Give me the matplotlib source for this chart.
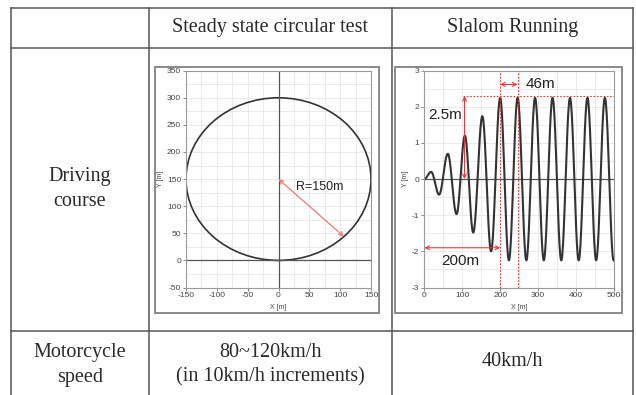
import numpy as np
import matplotlib.pyplot as plt
from matplotlib.lines import Line2D
from matplotlib.patches import Rectangle, Circle

plt.rcParams["axes.unicode_minus"] = False

# table text
header = ["Steady state circular test", "Slalom Running"]
row_labels = ["Driving\ncourse", "Motorcycle\nspeed"]
speeds = ["80~120km/h\n(in 10km/h increments)", "40km/h"]

# circular test course
circle_center = (0, 150)
circle_radius = 150
circle_xticks = [-150, -100, -50, 0, 50, 100, 150]
circle_yticks = [-50, 0, 50, 100, 150, 200, 250, 300, 350]

# slalom course: turning points
slalom_x = [0, 18, 39, 62, 85, 107, 129, 153, 176, 200, 223, 246, 269, 292,
            315, 338, 361, 384, 407, 430, 453, 476, 499]
slalom_y = [0, 0.2, -0.43, 0.7, -0.97, 1.2, -1.48, 1.74, -2.0, 2.25, -2.25, 2.25,
            -2.25, 2.25, -2.25, 2.25, -2.25, 2.25, -2.25, 2.25, -2.25, 2.25, -2.25]
slalom_xticks = [0, 100, 200, 300, 400, 500]
slalom_yticks = [-3, -2, -1, 0, 1, 2, 3]

W, H = 636, 395
fig = plt.figure(figsize=(W / 100, H / 100), dpi=100)

def fx(x):
    return x / W

def fy(y):
    return 1 - y / H

def hline(y, x0, x1):
    fig.add_artist(Line2D([fx(x0), fx(x1)], [fy(y), fy(y)], color="#555555", lw=1.1))

def vline(x, y0, y1):
    fig.add_artist(Line2D([fx(x), fx(x)], [fy(y0), fy(y1)], color="#555555", lw=1.1))

# table grid
cols = [11, 149, 392, 633]
rows = [7.5, 47.5, 331]
for r in rows:
    hline(r, cols[0], cols[-1])
for c in cols:
    vline(c, rows[0], H + 2)

serif = dict(family="Liberation Serif", fontsize=14.5, color="#2a2a2a",
             ha="center", va="center", linespacing=1.4)
fig.text(fx(270.5), fy(27.5), header[0], **serif)
fig.text(fx(512.5), fy(27.5), header[1], **serif)
fig.text(fx(80), fy(189), row_labels[0], **serif)
fig.text(fx(80), fy(365), row_labels[1], **serif)
fig.text(fx(270.5), fy(365), speeds[0], **serif)
fig.text(fx(512.5), fy(361), speeds[1], **serif)

def frame(x0, y0, x1, y1):
    fig.add_artist(Rectangle((fx(x0), fy(y1)), fx(x1 - x0), (y1 - y0) / H,
                             transform=fig.transFigure, facecolor="white",
                             edgecolor="#8a8a8a", lw=1.4, zorder=0))

def make_axes(x0, y0, x1, y1):
    ax = fig.add_axes([fx(x0), fy(y1), fx(x1 - x0), (y1 - y0) / H])
    for s in ax.spines.values():
        s.set_color("#999999")
        s.set_linewidth(0.8)
    ax.tick_params(labelsize=6, length=2.5, width=0.6, color="#777777",
                   labelcolor="#444444", pad=1)
    ax.set_axisbelow(True)
    return ax

small = dict(fontsize=5, family="Liberation Sans", color="#444444")

# circular course plot
frame(155, 66.5, 379, 313)
ax1 = make_axes(186, 70.7, 371, 287.5)
ax1.set_xlim(-150, 150)
ax1.set_ylim(-50, 350)
ax1.set_xticks(circle_xticks)
ax1.set_yticks(circle_yticks)
ax1.set_xticks(np.arange(-150, 151, 25), minor=True)
ax1.set_yticks(np.arange(-50, 351, 25), minor=True)
ax1.tick_params(which="minor", length=0)
ax1.grid(True, which="both", color="#e6e6e6", lw=0.6)
for lab in ax1.get_xticklabels() + ax1.get_yticklabels():
    lab.set_family("Liberation Sans")
ax1.axhline(0, color="#555555", lw=0.9)
ax1.axvline(0, color="#555555", lw=0.9)
ax1.add_patch(Circle(circle_center, circle_radius, fill=False, color="#333333", lw=1.2))
ax1.annotate("", xy=circle_center, xytext=(106, 44),
             arrowprops=dict(arrowstyle="<->", color="#f07878", lw=0.9,
                             shrinkA=0, shrinkB=0, mutation_scale=7))
ax1.text(28, 135, "R=150m", fontsize=9, family="Liberation Sans", color="#222222",
         va="center")
ax1.set_xlabel("X [m]", labelpad=3, **small)
ax1.set_ylabel("Y [m]", labelpad=2, **small)

# slalom course plot
frame(395, 66.5, 622, 313)
ax2 = make_axes(424.3, 70.7, 614, 287.5)
ax2.set_xlim(0, 500)
ax2.set_ylim(-3, 3)
ax2.set_xticks(slalom_xticks)
ax2.set_yticks(slalom_yticks)
ax2.set_xticks(np.arange(0, 501, 50), minor=True)
ax2.set_yticks(np.arange(-3, 3.01, 0.5), minor=True)
ax2.tick_params(which="minor", length=0)
ax2.grid(True, which="both", color="#e6e6e6", lw=0.6)
for lab in ax2.get_xticklabels() + ax2.get_yticklabels():
    lab.set_family("Liberation Sans")
ax2.axhline(0, color="#555555", lw=0.9)

xs, ys = [], []
for i in range(len(slalom_x) - 1):
    t = np.linspace(0, 1, 25)
    xs.extend(slalom_x[i] + (slalom_x[i + 1] - slalom_x[i]) * t)
    ys.extend(slalom_y[i] + (slalom_y[i + 1] - slalom_y[i]) * (1 - np.cos(np.pi * t)) / 2)
ax2.plot(xs, ys, color="#333333", lw=1.5)

red = "#e83a3a"
ax2.axvline(200, color=red, lw=0.8, ls=(0, (1.5, 1.5)))
ax2.axvline(246, color=red, lw=0.8, ls=(0, (1.5, 1.5)))
ax2.plot([103, 500], [2.3, 2.3], color=red, lw=0.8, ls=(0, (1.5, 1.5)))
arrow = dict(arrowstyle="<->", color=red, lw=0.8, shrinkA=0, shrinkB=0, mutation_scale=7)
ax2.annotate("", xy=(106, 2.3), xytext=(106, 0), arrowprops=arrow)
ax2.annotate("", xy=(200, 2.62), xytext=(246, 2.62), arrowprops=arrow)
ax2.annotate("", xy=(0, -1.9), xytext=(200, -1.9), arrowprops=arrow)
big = dict(fontsize=11, family="Liberation Sans", color="#222222", va="center")
ax2.text(55, 1.78, "2.5m", ha="center", **big)
ax2.text(305, 2.62, "46m", ha="center", **big)
ax2.text(94, -2.26, "200m", ha="center", **big)
ax2.set_xlabel("X [m]", labelpad=3, **small)
ax2.set_ylabel("Y [m]", labelpad=2, **small)

fig.savefig("out.png", dpi=100)
